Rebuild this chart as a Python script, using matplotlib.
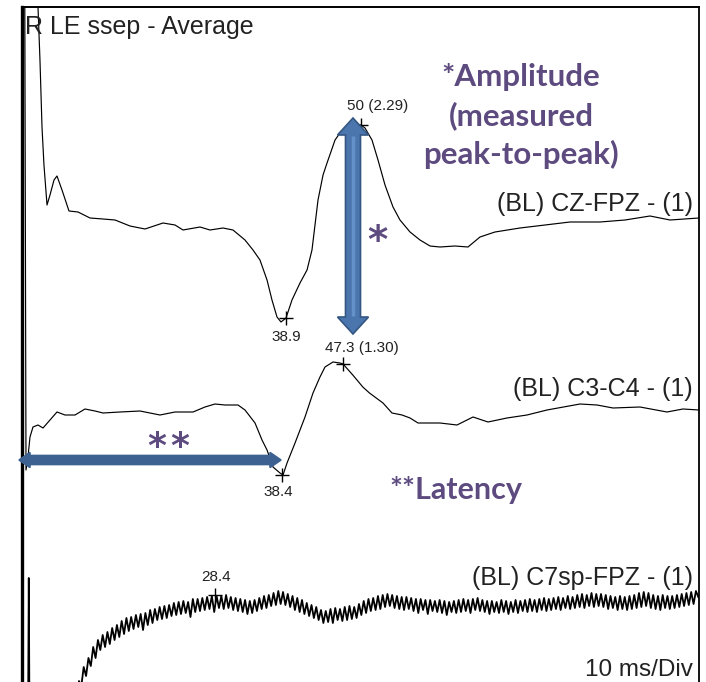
import matplotlib
matplotlib.use("Agg")
import matplotlib.pyplot as plt
import numpy as np
from matplotlib.patches import Polygon

# --- traces: time (ms) and amplitude (screen units, baseline = 0)
cz_t = [2.1, 2.36, 2.65, 2.95, 3.24, 3.69, 4.13, 4.72, 5.16, 5.90, 6.93, 8.26, 10.03,
        11.95, 13.72, 15.93, 18.14, 20.80, 22.57, 23.75, 26.25, 27.73, 29.65, 31.12,
        32.89, 34.07, 35.10, 36.14, 36.87, 37.61, 38.20, 38.94, 39.82, 41.0, 42.04,
        42.77, 43.66, 44.40, 44.99, 46.17, 46.90, 48.08, 49.41, 50.0, 50.59, 51.62,
        52.51, 53.54, 54.72, 55.75, 57.23, 58.70, 60.18, 61.65, 63.86, 65.78, 67.55,
        69.76, 73.45, 77.14, 80.83, 85.25, 88.94, 92.63, 95.58, 99.85]
cz_v = [260, 213, 160, 93, 55, 15, 25, 40, 44, 30, 9, 8, 2,
        1, 0, -6, -9, -3, -5, -10, -7, -10, -8, -10,
        -20, -30, -40, -60, -80, -97, -102, -98, -80, -63, -50,
        -30, 20, 45, 57, 80, 87, 93, 95, 95, 92, 80,
        60, 35, 13, 0, -12, -20, -26, -27, -26, -27, -17,
        -12, -8, -5, -2, -2, 0, 4, 0, 2]

c3_t = [0.40, 0.59, 0.88, 1.18, 1.62, 2.36, 3.10, 4.13, 5.16, 6.34, 7.82, 9.29, 10.77,
        11.95, 14.45, 17.40, 20.35, 22.57, 25.22, 26.99, 28.47, 29.94, 31.86, 32.89,
        34.37, 35.40, 36.14, 37.02, 38.05, 38.50, 39.09, 40.27, 41.74, 42.92, 43.95,
        44.69, 45.87, 46.90, 47.35, 48.79, 50.27, 51.25, 53.24, 54.57, 56.05, 57.23,
        58.41, 61.65, 64.16, 66.52, 68.73, 71.53, 74.48, 77.43, 82.30, 84.81, 87.17,
        91.15, 95.13, 97.49, 99.85]
c3_v = [440, -58, -45, -25, -15, -13, -16, -8, 0, -3, -3, 3, 1,
        -1, 0, 1, -3, 0, 0, 5, 8, 7, 7, 2,
        -11, -28, -38, -55, -61, -63, -51, -31, -5, 19, 35,
        45, 50, 49, 48, 37, 25, 19, 9, -1, -3, -6,
        -11, -11, -13, -5, -10, -6, -3, 2, 8, 7, 4,
        5, 0, 3, 2]

# C7sp channel: stimulus artefact, then sampled every 0.35 ms from 8.4 ms
c7_art_t = [0.9, 1.0, 1.1, 8.0]
c7_art_v = [-110, 27, -110, -110]
c7_start = 8.4
c7_step = 0.35
c7_v = [-76, -81, -62, -71, -53, -61, -42, -53, -35, -45,
        -30, -42, -27, -39, -23, -35, -20, -32, -16, -29,
        -13, -26, -12, -24, -10, -22, -9, -25, -8, -20,
        -5, -18, -4, -15, -2, -14, -1, -13, 0, -11,
        2, -10, 3, -9, 4, -8, 3, -12, 6, -7,
        6, -6, 7, -5, 8, -4, 9, -7, 9, -3,
        9, -4, 10, -3, 8, -5, 7, -6, 6, -7,
        5, -9, 4, -8, 5, -6, 7, -4, 9, -3,
        10, -1, 12, 0, 14, 1, 13, 0, 11, -2,
        9, -5, 7, -7, 5, -9, 2, -11, 0, -13,
        -2, -15, -5, -18, -6, -17, -4, -18, -3, -15,
        -4, -16, -2, -15, -1, -14, -2, -13, 1, -10,
        4, -8, 6, -6, 7, -5, 9, -4, 10, -2,
        11, -1, 10, -3, 9, -4, 8, -5, 8, -4,
        7, -6, 6, -8, 6, -5, 5, -9, 5, -6,
        4, -7, 5, -8, 4, -10, 3, -7, 4, -8,
        5, -7, 6, -6, 5, -8, 6, -5, 7, -6,
        5, -7, 4, -9, 4, -7, 3, -8, 5, -7,
        4, -9, 3, -7, 5, -8, 4, -6, 5, -7,
        6, -6, 5, -7, 6, -5, 7, -6, 6, -5,
        7, -4, 8, -5, 7, -3, 9, -4, 8, -3,
        10, -2, 11, -3, 10, -1, 12, -2, 11, -1,
        11, -2, 10, -4, 9, -3, 8, -5, 9, -4,
        8, -5, 9, -4, 10, -3, 12, -2, 13, -1,
        12, -3, 10, -4, 9, -5, 10, -3, 9, -4,
        9, -3, 10, -2, 11, -1, 12, 0, 13, 1,
        14, 8]

channel_names = ["(BL) CZ-FPZ - (1)", "(BL) C3-C4 - (1)", "(BL) C7sp-FPZ - (1)"]

# cursor marks: time, amplitude, label
cz_mark_t = [38.9, 50.0]
cz_mark_v = [-98, 95]
cz_mark_lbl = ["38.9", "50 (2.29)"]
c3_mark_t = [38.4, 47.3]
c3_mark_v = [-63, 48]
c3_mark_lbl = ["38.4", "47.3 (1.30)"]
c7_mark_t = [28.4]
c7_mark_v = [10]
c7_mark_lbl = ["28.4"]

W, H = 706, 682
PX_PER_MS = 6.78
offsets = [462, 270, 77]
label_rows = [204, 389, 578]
label_offs = {"38.9": (1, -19), "50 (2.29)": (17, 19), "38.4": (-4, -17),
              "47.3 (1.30)": (19, 16), "28.4": (2, 18)}

c7_t = c7_art_t + list(c7_start + c7_step * np.arange(len(c7_v)))
c7_all = c7_art_v + c7_v

fig = plt.figure(figsize=(W / 100, H / 100), dpi=100)
ax = fig.add_axes([22 / W, 0, 677 / W, 675 / H])
ax.set_xlim(0, 677 / PX_PER_MS)
ax.set_ylim(0, 675)
ax.set_xticks([])
ax.set_yticks([])
ax.spines["bottom"].set_visible(False)
ax.spines["left"].set_linewidth(2.4)
ax.spines["top"].set_linewidth(1.4)
ax.spines["right"].set_linewidth(1.3)

traces = [(cz_t, cz_v), (c3_t, c3_v), (c7_t, c7_all)]
marks = [(cz_mark_t, cz_mark_v, cz_mark_lbl), (c3_mark_t, c3_mark_v, c3_mark_lbl),
         (c7_mark_t, c7_mark_v, c7_mark_lbl)]
for i, (t, v) in enumerate(traces):
    lw = 1.3 if i == 2 else 0.85
    ax.plot(t, np.array(v) + offsets[i], color="black", lw=lw, clip_on=True)
    mt, mv, ml = marks[i]
    for tt, vv, lab in zip(mt, mv, ml):
        ax.plot(tt, vv + offsets[i], marker="+", ms=10, mew=1.0, color="black")
        dx, dy = label_offs[lab]
        ax.annotate(lab, (tt, vv + offsets[i]), xytext=(dx, dy), textcoords="offset pixels",
                    ha="center", va="center", fontsize=11, color="#222222",
                    family="Liberation Sans")

# overlay in pixel coordinates for the annotations
ov = fig.add_axes([0, 0, 1, 1])
ov.set_xlim(0, W)
ov.set_ylim(H, 0)
ov.axis("off")
ov.patch.set_visible(False)


def double_arrow(a, x0, y0, x1, y1, width, head_w, head_l, face, edge):
    p0 = np.array([x0, y0], float)
    p1 = np.array([x1, y1], float)
    d = (p1 - p0) / np.linalg.norm(p1 - p0)
    n = np.array([-d[1], d[0]])
    b0 = p0 + d * head_l
    b1 = p1 - d * head_l
    pts = [p0, b0 + n * head_w / 2, b0 + n * width / 2, b1 + n * width / 2,
           b1 + n * head_w / 2, p1, b1 - n * head_w / 2, b1 - n * width / 2,
           b0 - n * width / 2, b0 - n * head_w / 2]
    a.add_patch(Polygon(pts, closed=True, facecolor=face, edgecolor=edge, lw=1.2, zorder=5))


double_arrow(ov, 353, 118, 353, 334, 15, 31, 17, "#4b76ad", "#345683")
ov.plot([353, 353], [136, 316], color="#6391c8", lw=2.5, zorder=6, solid_capstyle="butt")
double_arrow(ov, 19, 460, 281, 460, 9, 15, 11, "#3d6190", "#3d6190")

purple = "#5d4b80"
for txt, y in zip(["*Amplitude", "(measured", "peak-to-peak)"], [77, 116, 154]):
    ov.text(521, y, txt, ha="center", va="center", fontsize=22.5, color=purple,
            family="Lato", fontweight="bold")
ov.text(389, 490, "**Latency", ha="left", va="center", fontsize=22, color=purple,
        family="Lato", fontweight="bold")
for x in [157, 180]:
    ov.text(x, 447, "*", ha="center", va="center", fontsize=26, color=purple,
            family="DejaVu Sans", fontweight="bold")
ov.text(377, 242, "*", ha="center", va="center", fontsize=28, color=purple,
        family="DejaVu Sans", fontweight="bold")

ov.text(25, 27, "R LE ssep - Average", ha="left", va="center", fontsize=18,
        color="#222222", family="Liberation Sans")
for name, row in zip(channel_names, label_rows):
    ov.text(693, row, name, ha="right", va="center", fontsize=18, color="#222222",
            family="Liberation Sans")
ov.text(693, 670, "10 ms/Div", ha="right", va="center", fontsize=17.5, color="#222222",
        family="Liberation Sans")

fig.savefig("out.png", dpi=100)
